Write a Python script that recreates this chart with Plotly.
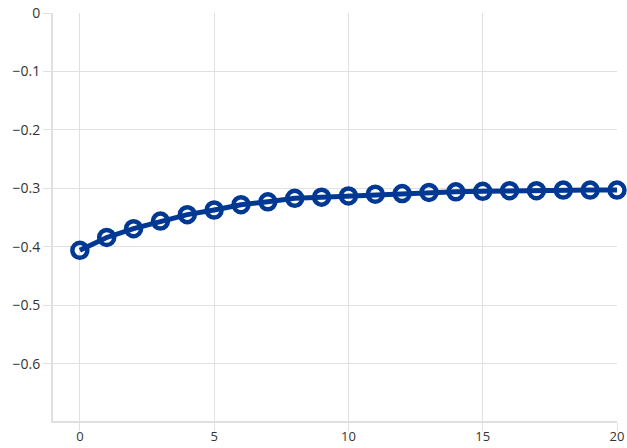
import plotly.graph_objects as go

x_vals = list(range(21))
y_vals = [-0.406, -0.384, -0.369, -0.356, -0.345, -0.337, -0.328, -0.323, -0.317,
          -0.315, -0.313, -0.310, -0.309, -0.307, -0.306, -0.305, -0.304, -0.304,
          -0.303, -0.303, -0.303]
x_ticks = [0, 5, 10, 15, 20]
y_ticks = [0, -0.1, -0.2, -0.3, -0.4, -0.5, -0.6]
y_tick_text = ["0", "−0.1", "−0.2", "−0.3", "−0.4", "−0.5", "−0.6"]

color = "#003893"
fig = go.Figure(go.Scatter(
    x=x_vals, y=y_vals, mode="lines+markers",
    line=dict(color=color, width=5),
    marker=dict(symbol="circle-open", size=15, color=color, line=dict(width=4.5, color=color)),
    hoverinfo="skip", cliponaxis=False,
))

grid = "#e0e0e0"
fig.update_layout(
    width=627, height=448,
    margin=dict(l=53, r=10, t=13, b=27, autoexpand=False),
    paper_bgcolor="white", plot_bgcolor="white",
    showlegend=False,
    font=dict(family="Open Sans, Noto Sans, sans-serif", size=14, color="#333333"),
)
fig.update_xaxes(
    range=[-1, 20], tickvals=x_ticks, ticktext=[str(v) for v in x_ticks],
    showgrid=True, gridcolor=grid, gridwidth=1,
    showline=True, linecolor=grid, linewidth=2,
    ticks="outside", ticklen=8, tickcolor=grid, tickwidth=1,
    ticklabelstandoff=-6, tickfont=dict(size=13),
    zeroline=False, automargin=False,
)
fig.update_yaxes(
    range=[-0.698, 0], tickvals=y_ticks, ticktext=y_tick_text,
    showgrid=True, gridcolor=grid, gridwidth=1,
    showline=True, linecolor=grid, linewidth=2,
    ticks="outside", ticklen=8, tickcolor=grid, tickwidth=1,
    zeroline=False, automargin=False,
)
fig.write_html("out.html", config={"displayModeBar": False, "staticPlot": True},
               post_script="document.body.style.margin='0';document.body.style.overflow='hidden';")
